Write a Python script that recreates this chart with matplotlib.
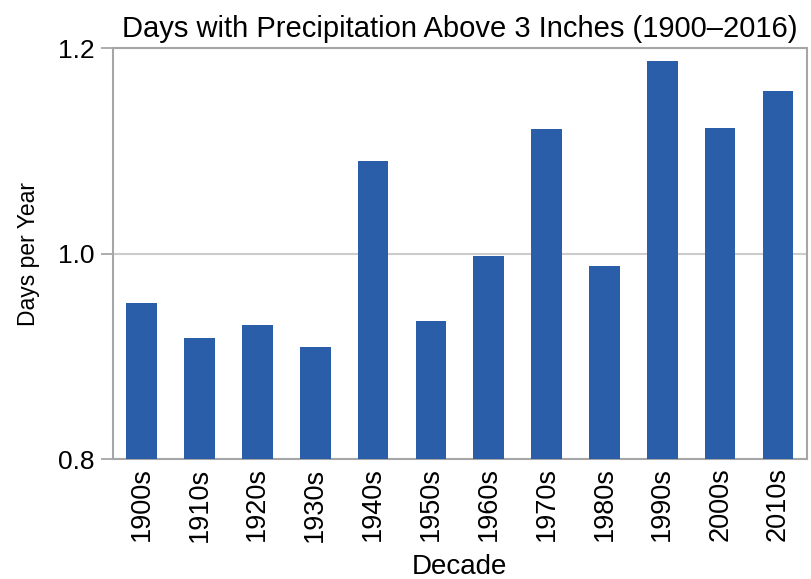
import matplotlib
matplotlib.use("Agg")
import matplotlib.pyplot as plt

decades = ["1900s", "1910s", "1920s", "1930s", "1940s", "1950s",
           "1960s", "1970s", "1980s", "1990s", "2000s", "2010s"]
days_per_year = [0.952, 0.918, 0.931, 0.909, 1.090, 0.934,
                 0.998, 1.121, 0.988, 1.187, 1.122, 1.158]
y_ticks = [0.8, 1.0, 1.2]

plt.rcParams['font.family'] = ['Liberation Sans Narrow', 'Liberation Sans', 'DejaVu Sans']

fig = plt.figure(figsize=(8.11, 5.79), dpi=100)
ax = fig.add_axes([0.139, 0.207, 0.856, 0.710])

ax.bar(range(len(decades)), days_per_year, width=0.53, color='#2a5ea8', zorder=3)

ax.set_xlim(-0.5, len(decades) - 0.5)
ax.set_ylim(0.8, 1.2)
ax.set_yticks(y_ticks)
ax.set_yticklabels(["%.1f" % v for v in y_ticks])
ax.set_xticks(range(len(decades)))
ax.set_xticklabels(decades, rotation=90)

ax.yaxis.grid(True, color='#cccccc', linewidth=1.5, zorder=0)
for s in ax.spines.values():
    s.set_color('#a6a6a6')
    s.set_linewidth(1.5)

ax.tick_params(axis='y', direction='out', length=9, width=1.3, color='#a6a6a6',
               labelsize=19, pad=4)
ax.tick_params(axis='x', length=0, labelsize=19.5, pad=6)

ax.set_ylabel("Days per Year", fontsize=16.5, labelpad=13)
ax.set_xlabel("Decade", fontsize=20, labelpad=9)
ax.set_title("Days with Precipitation Above 3 Inches (1900\u20132016)", fontsize=21, pad=8)

fig.savefig("out.png", dpi=100)
